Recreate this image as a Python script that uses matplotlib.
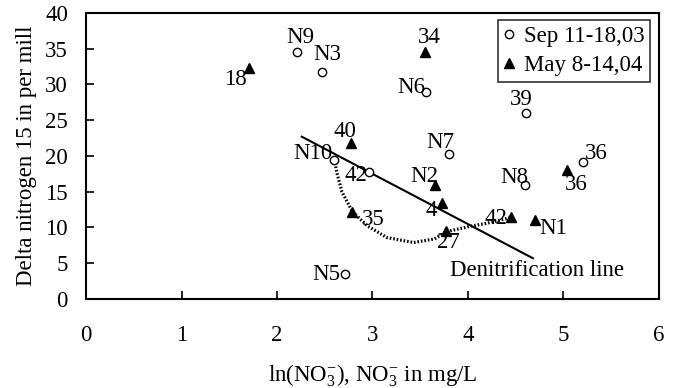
import matplotlib
matplotlib.use('Agg')
import matplotlib.pyplot as plt

plt.rcParams['font.family'] = ['Liberation Serif', 'DejaVu Serif']
plt.rcParams['mathtext.fontset'] = 'custom'
plt.rcParams['mathtext.rm'] = 'Liberation Serif'
plt.rcParams['mathtext.it'] = 'Liberation Serif:italic'

FS = 16.5

# Sep 11-18,03 (open circles)
sep_x = [2.21, 2.47, 3.56, 3.80, 2.60, 2.96, 4.60, 2.71, 4.61, 5.21]
sep_y = [34.6, 31.8, 28.9, 20.3, 19.5, 17.7, 16.0, 3.5, 26.0, 19.2]
sep_labels = ['N9', 'N3', 'N6', 'N7', 'N10', '42', 'N8', 'N5', '39', '36']
sep_offsets = [(3, -14), (5, -17), (-15, -5), (-9, -11), (-21, -6),
               (-13, 3), (-11, -7), (-18, 1), (-5, -14), (13, -8)]

# May 8-14,04 (filled triangles)
may_x = [1.71, 3.55, 2.78, 3.66, 3.73, 2.79, 3.77, 4.45, 4.70, 5.04]
may_y = [32.3, 34.6, 21.8, 15.9, 13.4, 12.2, 9.5, 11.4, 11.0, 18.0]
may_labels = ['18', '34', '40', 'N2', '4', '35', '27', '42', 'N1', '36']
may_offsets = [(-14, 11), (4, -14), (-7, -12), (-11, -9), (-11, 7),
               (21, 8), (2, 11), (-15, 1), (18, 8), (9, 14)]

# denitrification line and dotted trend
denit_x = [2.26, 4.68]
denit_y = [22.7, 5.7]
trend_x = [2.60, 2.63, 2.68, 2.79, 2.95, 3.15, 3.43, 3.65, 3.77, 4.00, 4.20, 4.45]
trend_y = [19.5, 17.5, 15.0, 12.2, 10.2, 8.6, 7.9, 8.4, 9.4, 10.1, 10.6, 11.4]

fig = plt.figure(figsize=(6.8, 3.88), dpi=100)
ax = fig.add_axes([0.1265, 0.2294, 0.8425, 0.7371])

ax.plot(denit_x, denit_y, color='black', lw=1.5)
ax.plot(trend_x, trend_y, color='black', lw=2.3, ls=(0, (0.5, 0.6)))

ax.plot(sep_x, sep_y, 'o', ms=6, mfc='white', mec='black', mew=1,
        label='Sep 11-18,03', zorder=3)
ax.plot(may_x, may_y, '^', ms=7.5, mfc='black', mec='black',
        label='May 8-14,04', zorder=3)

for x, y, lab, off in zip(sep_x, sep_y, sep_labels, sep_offsets):
    ax.annotate(lab, (x, y), xytext=(off[0], -off[1]), textcoords='offset pixels',
                ha='center', va='center', fontsize=FS)
for x, y, lab, off in zip(may_x, may_y, may_labels, may_offsets):
    ax.annotate(lab, (x, y), xytext=(off[0], -off[1]), textcoords='offset pixels',
                ha='center', va='center', fontsize=FS)

ax.text(3.81, 4.05, 'Denitrification line', ha='left', va='center', fontsize=FS)

ax.set_xlim(0, 6)
ax.set_ylim(0, 40)
ax.set_xticks(range(0, 7))
ax.set_yticks(range(0, 41, 5))
ax.tick_params(axis='both', direction='in', length=6, width=1.2, labelsize=FS)
ax.tick_params(axis='x', pad=18.5)
ax.tick_params(axis='y', pad=13)
for s in ax.spines.values():
    s.set_linewidth(1.5)

ax.set_xlabel(r'ln(NO$_3^{-}$), NO$_3^{-}$ in mg/L', fontsize=FS, labelpad=12)
ax.set_ylabel('Delta nitrogen 15 in per mill', fontsize=FS, labelpad=6)

leg = ax.legend(loc='upper right', fontsize=FS, frameon=True, fancybox=False,
                handlelength=0.5, handletextpad=0.4, borderpad=0.25,
                labelspacing=0.35, bbox_to_anchor=(0.993, 0.99), markerscale=1.0,
                borderaxespad=0.2)
leg.get_frame().set_edgecolor('black')
leg.get_frame().set_linewidth(1.2)

fig.savefig('out.png', dpi=100)
